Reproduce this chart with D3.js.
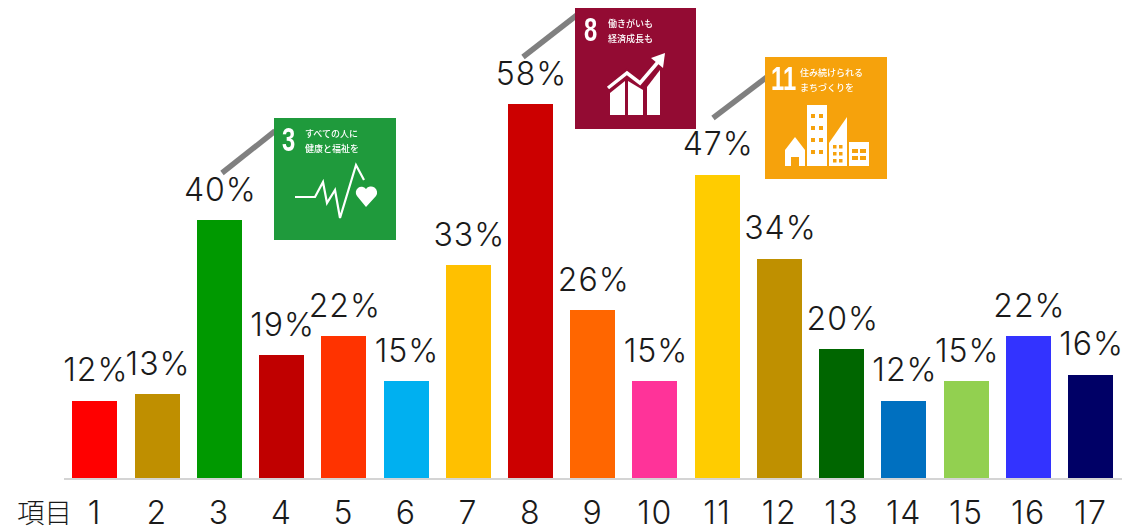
<!DOCTYPE html>
<html lang="ja">
<head>
<meta charset="utf-8">
<style>
  html, body { margin: 0; padding: 0; background: #fff; }
  svg { display: block; }
  text { font-family: "Noto Sans CJK JP", "Noto Sans", sans-serif; }
  .num { font-family: Inter, "Noto Sans", sans-serif; font-weight: 300; }
  .badge-num { font-family: "Liberation Sans", sans-serif; font-weight: 700; }
</style>
</head>
<body>
<script src="https://cdn.jsdelivr.net/npm/d3@7/dist/d3.min.js"></script>
<script>
// Survey results per SDG goal
const goals = ["1","2","3","4","5","6","7","8","9","10","11","12","13","14","15","16","17"];
const shares = [12,13,40,19,22,15,33,58,26,15,47,34,20,12,15,22,16];
const barColors = ["#ff0000","#bf8f00","#009900","#c00000","#ff3300","#00b0f0","#ffc000","#cc0000",
                   "#ff6600","#ff3399","#ffcc00","#bf9000","#006600","#0070c0","#92d050","#3333ff","#000066"];
const axisTitle = "項目";

const width = 1144, height = 531;
const svg = d3.select("body").append("svg").attr("width", width).attr("height", height);

const x = d3.scaleBand().domain(goals).range([63.75, 1121.75]).paddingInner(0.277).paddingOuter(0.138);
const y = d3.scaleLinear().domain([0, 58]).range([478, 104]);

// Baseline
svg.append("rect").attr("x", 64).attr("y", 478).attr("width", 1058).attr("height", 2).attr("fill", "#d4d4d4");

// Bars
svg.append("g").attr("shape-rendering", "crispEdges").selectAll("rect").data(goals).join("rect")
  .attr("x", d => x(d))
  .attr("y", (d, i) => y(shares[i]))
  .attr("width", x.bandwidth())
  .attr("height", (d, i) => y(0) - y(shares[i]))
  .attr("fill", (d, i) => barColors[i]);

// Percentage labels
svg.append("g").selectAll("text").data(goals).join("text")
  .attr("class", "num")
  .attr("x", d => x(d) + x.bandwidth() / 2 + 1)
  .attr("y", (d, i) => y(shares[i]) - 19.5)
  .attr("text-anchor", "middle")
  .attr("font-size", 32)
  .attr("letter-spacing", 1)
  .attr("fill", "#1a1a1a")
  .text((d, i) => shares[i] + "%");

// Category labels
svg.append("g").selectAll("text").data(goals).join("text")
  .attr("class", "num")
  .attr("x", d => x(d) + x.bandwidth() / 2)
  .attr("y", 523.5)
  .attr("text-anchor", "middle")
  .attr("font-size", 32)
  .attr("letter-spacing", 1.5)
  .attr("fill", "#1a1a1a")
  .text(d => d);
svg.append("text").attr("x", 17).attr("y", 523).attr("font-size", 27.5).attr("font-weight", 300)
  .attr("fill", "#1a1a1a").text(axisTitle);

// Goal badges with their leader lines
const line = d3.line();
const soft = svg.append("defs").append("filter").attr("id", "soft");
soft.append("feGaussianBlur").attr("stdDeviation", 0.45);

function leader(pts) {
  svg.append("path").attr("d", line(pts)).attr("fill", "none").attr("stroke", "#808080").attr("stroke-width", 5.5);
}
function badge(bx, by, size, color, num, numX, captions, capX) {
  const g = svg.append("g");
  g.append("rect").attr("x", bx).attr("y", by).attr("width", size).attr("height", size).attr("fill", color);
  const c = g.append("g").attr("filter", "url(#soft)");
  // Condensed numeral: squeezed horizontally around its left edge
  c.append("text").attr("class", "badge-num")
    .attr("transform", `translate(${numX},${by + 33}) scale(0.72,1)`)
    .attr("font-size", 33).attr("fill", "#fff").text(num);
  captions.forEach((t, i) => {
    c.append("text").attr("x", capX).attr("y", by + 19 + i * 15).attr("font-size", 9).attr("font-weight", 500)
      .attr("fill", "#fff").text(t);
  });
  return c;
}

// Goal 3: heartbeat
leader([[222, 173], [275, 131]]);
const g3 = badge(274, 118, 122, "#1f9a3c", "3", 282, ["すべての人に", "健康と福祉を"], 305);
g3.append("path").attr("d", line([[295,197],[315,197],[323,182],[327,203],[335,190],[340,218],[356,165],[364,180]]))
  .attr("fill", "none").attr("stroke", "#fff").attr("stroke-width", 2.2);
g3.append("path").attr("d", "M366,207 L357,196 A5.6,5.6 0 0 1 366,189 A5.6,5.6 0 0 1 376,196 Z").attr("fill", "#fff");

// Goal 8: rising chart
leader([[523, 57], [577, 15]]);
const maroon = "#930b33";
const g8 = badge(575, 8, 121, maroon, "8", 584, ["働きがいも", "経済成長も"], 608);
[[[610,93],[625,81],[625,115],[610,115]],
 [[628,81],[643,90],[643,115],[628,115]],
 [[647,87],[660,70],[660,115],[647,115]]].forEach(p => {
  g8.append("path").attr("d", line(p) + "Z").attr("fill", "#fff");
});
const arrowPath = [[608,88],[627,73],[640,83],[658,62]];
g8.append("path").attr("d", line(arrowPath)).attr("fill", "none").attr("stroke", maroon).attr("stroke-width", 7);
g8.append("path").attr("d", line(arrowPath)).attr("fill", "none").attr("stroke", "#fff").attr("stroke-width", 3.5);
g8.append("path").attr("d", line([[651,58],[665,53],[663,68]]) + "Z").attr("fill", "#fff");

// Goal 11: townscape
leader([[713, 118], [767, 77]]);
const amber = "#f6a20c";
const g11 = badge(765, 57, 122, amber, "11", 771, ["住み続けられる", "まちづくりを"], 800);
g11.append("path").attr("d", line([[785,150],[795,137],[805,150],[805,166],[785,166]]) + "Z").attr("fill", "#fff");
g11.append("rect").attr("x", 791).attr("y", 157).attr("width", 8).attr("height", 9).attr("fill", amber);
g11.append("rect").attr("x", 807).attr("y", 105).attr("width", 20).attr("height", 61).attr("fill", "#fff");
g11.append("path").attr("d", line([[829,166],[829,143],[847,117],[847,166]]) + "Z").attr("fill", "#fff");
g11.append("rect").attr("x", 849).attr("y", 142).attr("width", 20).attr("height", 24).attr("fill", "#fff");
// Tower windows
d3.range(4).forEach(r => d3.range(2).forEach(c => {
  g11.append("rect").attr("x", 811 + c * 8).attr("y", 114 + r * 12).attr("width", 4).attr("height", 4).attr("fill", amber);
}));
// Slanted block and low block windows
d3.range(3).forEach(r => d3.range(2).forEach(c => {
  g11.append("rect").attr("x", 833 + c * 6).attr("y", 145 + r * 7).attr("width", 3.5).attr("height", 3.5).attr("fill", amber);
}));
d3.range(2).forEach(r => d3.range(2).forEach(c => {
  g11.append("rect").attr("x", 852 + c * 8).attr("y", 149 + r * 7).attr("width", 6).attr("height", 4).attr("fill", amber);
}));
</script>
</body>
</html>
